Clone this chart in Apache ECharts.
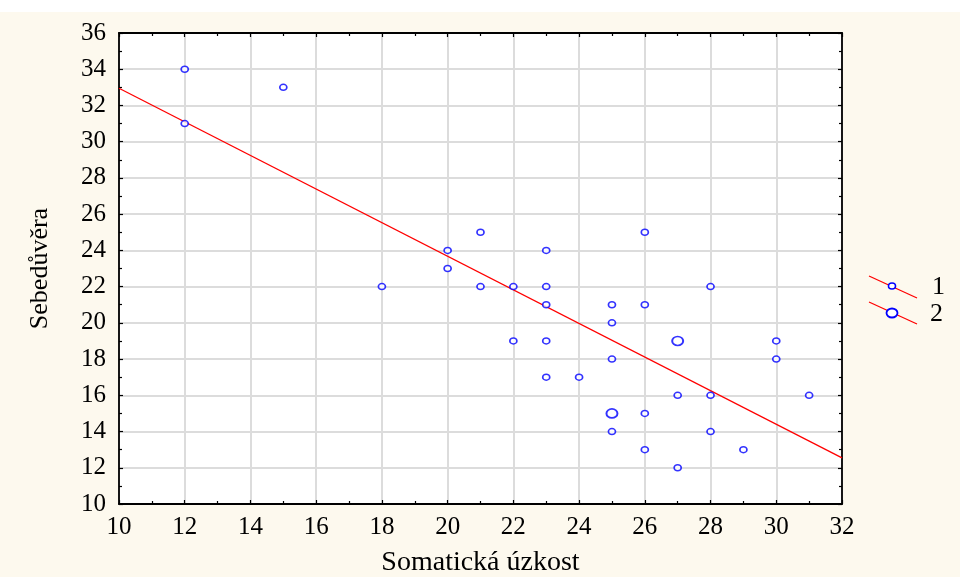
<!DOCTYPE html>
<html><head><meta charset="utf-8">
<script src="https://cdn.jsdelivr.net/npm/echarts@6/dist/echarts.min.js"></script>
<style>html,body{margin:0;padding:0;background:#fff}#c{width:960px;height:577px}</style>
</head><body><div id="c"></div>
<script>
// Somatická úzkost (x) vs Sebedůvěra (y); count 1 points
const xTicks = [10,12,14,16,18,20,22,24,26,28,30,32];
const yTicks = [10,12,14,16,18,20,22,24,26,28,30,32,34,36];
const singleX = [12,12,15,18,20,20,21,21,22,22,23,23,23,23,23,24,25,25,25,25,26,26,26,26,27,27,28,28,28,29,30,30,31];
const singleY = [34,31,33,22,24,23,25,22,22,19,24,22,21,19,17,17,21,20,18,14,25,21,15,13,16,12,22,16,14,13,19,18,16];
// count 2 points
const doubleX = [25,27];
const doubleY = [15,19];
// regression line endpoints
const lineX = [10,32];
const lineY = [32.95,12.55];
const legendNames = ['1','2'];

const font = 'Liberation Serif';
const chart = echarts.init(document.getElementById('c'));
const axisCommon = {
  type:'value', interval:2,
  axisLine:{show:true,onZero:false,lineStyle:{color:'#000',width:1.8}},
  axisTick:{show:true,inside:true,length:4,lineStyle:{color:'#000',width:1.2}},
  minorTick:{show:true,splitNumber:2,length:3,lineStyle:{color:'#000',width:1.2}},
};
chart.setOption({
  backgroundColor:'#fdf9ee',
  animation:false,
  grid:{left:119,right:118,top:33,bottom:73,show:true,backgroundColor:'#fff',borderWidth:0,
    containLabel:false,outerBoundsMode:'none'},
  xAxis:[
    Object.assign({},axisCommon,{min:xTicks[0],max:xTicks[xTicks.length-1],position:'bottom',
      name:'Somatická úzkost',nameLocation:'middle',nameGap:45,
      nameTextStyle:{fontFamily:font,fontSize:28,color:'#000'},
      axisLabel:{fontFamily:font,fontSize:25,color:'#000',margin:11},
      splitLine:{show:true,lineStyle:{color:'#dcdcdc',width:2}}}),
    Object.assign({},axisCommon,{min:xTicks[0],max:xTicks[xTicks.length-1],position:'top',
      axisLabel:{show:false},splitLine:{show:false}})
  ],
  yAxis:[
    Object.assign({},axisCommon,{min:yTicks[0],max:yTicks[yTicks.length-1],position:'left',
      name:'Sebedůvěra',nameLocation:'middle',nameGap:66,
      nameTextStyle:{fontFamily:font,fontSize:26,color:'#000'},
      axisLabel:{fontFamily:font,fontSize:25,color:'#000',margin:13},
      splitLine:{show:true,lineStyle:{color:'#dcdcdc',width:2}}}),
    Object.assign({},axisCommon,{min:yTicks[0],max:yTicks[yTicks.length-1],position:'right',
      axisLabel:{show:false},splitLine:{show:false}})
  ],
  series:[
    {name:'fit',type:'line',data:lineX.map((x,i)=>[x,lineY[i]]),symbol:'none',
      lineStyle:{color:'#ff0000',width:1.3},z:3},
    {name:legendNames[0],type:'scatter',data:singleX.map((x,i)=>[x,singleY[i]]),
      symbol:'circle',symbolSize:[7,6],itemStyle:{color:'#fff',borderColor:'#0000ff',borderWidth:1.6},z:4},
    {name:legendNames[1],type:'scatter',data:doubleX.map((x,i)=>[x,doubleY[i]]),
      symbol:'circle',symbolSize:[11,9],itemStyle:{color:'#fff',borderColor:'#0000ff',borderWidth:1.8},z:4}
  ],
  graphic:[
    {type:'rect',shape:{x:0,y:0,width:960,height:12},style:{fill:'#fff'},silent:true},
    {type:'line',shape:{x1:869,y1:276,x2:917,y2:298},style:{stroke:'#ff0000',lineWidth:1.3}},
    {type:'ellipse',shape:{cx:892,cy:286,rx:3.5,ry:3},style:{fill:'#fff',stroke:'#0000ff',lineWidth:1.6}},
    {type:'text',style:{text:legendNames[0],x:932,y:287,fontFamily:font,fontSize:26,fill:'#000',verticalAlign:'middle'}},
    {type:'line',shape:{x1:869,y1:302,x2:917,y2:324},style:{stroke:'#ff0000',lineWidth:1.3}},
    {type:'ellipse',shape:{cx:892,cy:313,rx:5.5,ry:4.5},style:{fill:'#fff',stroke:'#0000ff',lineWidth:1.8}},
    {type:'text',style:{text:legendNames[1],x:930,y:314,fontFamily:font,fontSize:26,fill:'#000',verticalAlign:'middle'}}
  ]
});
</script></body></html>
